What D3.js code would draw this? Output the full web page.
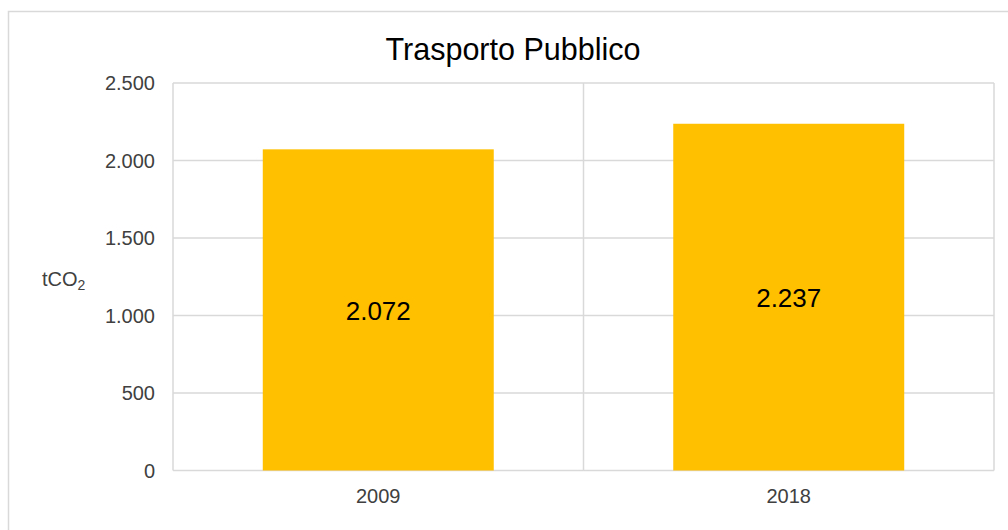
<!DOCTYPE html>
<html><head><meta charset="utf-8">
<script src="https://cdn.jsdelivr.net/npm/d3@7"></script>
<style>body{margin:0;background:#fff;}svg{display:block;font-family:"Liberation Sans",Arial,sans-serif;}</style>
</head><body>
<svg id="c" width="1008" height="530"></svg>
<script>
const categories = ["2009", "2018"];
const values = [2072, 2237];
const yTicks = [0, 500, 1000, 1500, 2000, 2500];
const title = "Trasporto Pubblico";

const svg = d3.select("#c");
const m = {left: 173, right: 994, top: 83, bottom: 470.5};
const fmt = d3.formatLocale({decimal: ",", thousands: ".", grouping: [3], currency: ["", "€"]}).format(",d");

svg.append("rect").attr("x", 8.5).attr("y", 11.5).attr("width", 1010).attr("height", 530)
  .attr("fill", "#fff").attr("stroke", "#d9d9d9").attr("stroke-width", 1.5);

const x = d3.scaleBand().domain(categories).range([m.left, m.right]).paddingInner(0.4373).paddingOuter(0.2187);
const xc = d3.scaleBand().domain(categories).range([m.left, m.right]);
const y = d3.scaleLinear().domain([0, 2500]).range([m.bottom, m.top]);

const grid = "#d9d9d9";
// horizontal gridlines
svg.append("g").selectAll("line").data(yTicks).join("line")
  .attr("x1", m.left).attr("x2", m.right).attr("y1", d => y(d)).attr("y2", d => y(d))
  .attr("stroke", grid).attr("stroke-width", 1.5);
// vertical gridlines at category boundaries
const bounds = [m.left, ...categories.map(c => xc(c) + xc.bandwidth())];
svg.append("g").selectAll("line").data(bounds).join("line")
  .attr("x1", d => d).attr("x2", d => d).attr("y1", m.top).attr("y2", m.bottom)
  .attr("stroke", grid).attr("stroke-width", 1.5);

// bars
svg.append("g").selectAll("rect").data(values).join("rect")
  .attr("x", (d, i) => x(categories[i])).attr("width", x.bandwidth())
  .attr("y", d => y(d)).attr("height", d => y(0) - y(d))
  .attr("fill", "#ffc000");

// data labels
svg.append("g").selectAll("text").data(values).join("text")
  .attr("x", (d, i) => x(categories[i]) + x.bandwidth() / 2)
  .attr("y", d => (y(d) + y(0)) / 2 + 1)
  .attr("dy", "0.35em").attr("text-anchor", "middle")
  .attr("font-size", 26).attr("fill", "#000").text(d => fmt(d));

// y tick labels
svg.append("g").selectAll("text").data(yTicks).join("text")
  .attr("x", 155).attr("y", d => y(d)).attr("dy", "0.35em").attr("text-anchor", "end")
  .attr("font-size", 20).attr("fill", "#404040").text(d => fmt(d));

// x labels
svg.append("g").selectAll("text").data(categories).join("text")
  .attr("x", d => xc(d) + xc.bandwidth() / 2).attr("y", 503)
  .attr("text-anchor", "middle").attr("font-size", 20).attr("fill", "#404040").text(d => d);

// axis title
const t = svg.append("text").attr("x", 42).attr("y", 286).attr("font-size", 20).attr("fill", "#404040");
t.append("tspan").text("tCO");
t.append("tspan").attr("font-size", 14).attr("dy", 4).text("2");

// title
svg.append("text").attr("x", 513).attr("y", 60).attr("text-anchor", "middle")
  .attr("font-size", 30.5).attr("fill", "#000").text(title);
</script>
</body></html>
